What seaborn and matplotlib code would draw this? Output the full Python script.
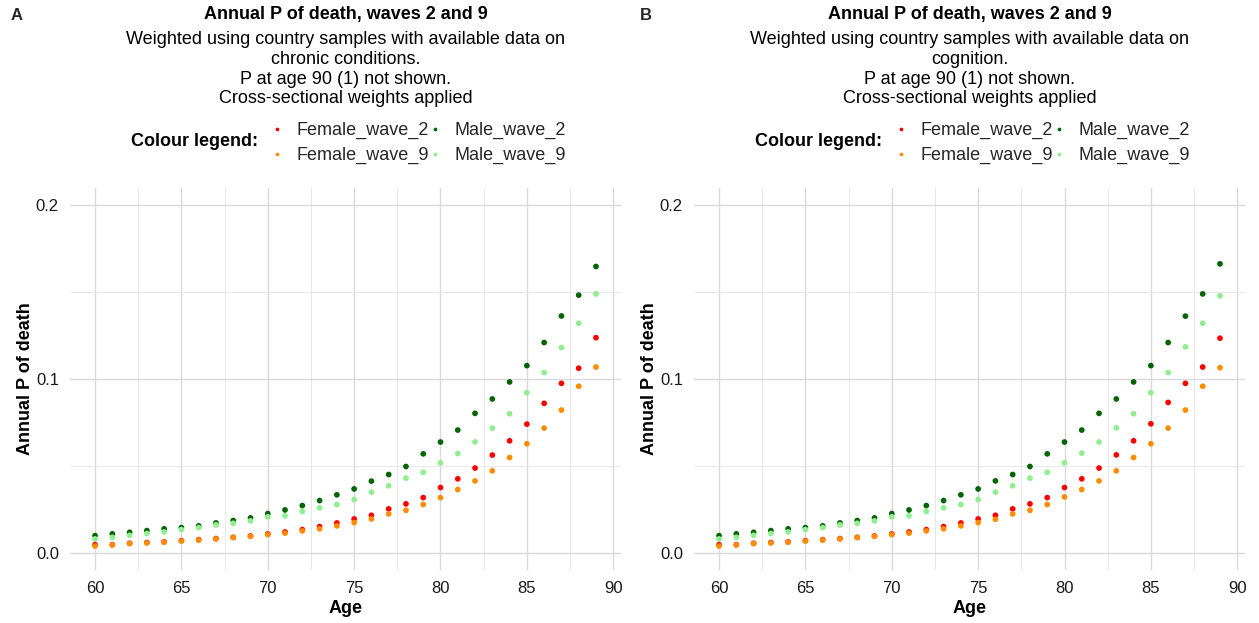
import numpy as np
import pandas as pd
import matplotlib
matplotlib.use("Agg")
import matplotlib.pyplot as plt
from matplotlib.ticker import MultipleLocator, FormatStrFormatter
import seaborn as sns

ages = list(range(60, 90))
groups = ["Female_wave_2", "Female_wave_9", "Male_wave_2", "Male_wave_9"]
palette = {"Female_wave_2": "#FF0000", "Female_wave_9": "#FF8C00",
           "Male_wave_2": "#006400", "Male_wave_9": "#90EE90"}

# Panel A: weighted on samples with chronic-condition data
a_female_wave_2 = [0.0046, 0.0046, 0.0054, 0.0058, 0.0062, 0.0069, 0.0075, 0.0081, 0.0088, 0.0096,
                   0.0108, 0.0119, 0.0133, 0.0150, 0.0171, 0.0194, 0.0215, 0.0252, 0.0281, 0.0317,
                   0.0375, 0.0425, 0.0487, 0.0562, 0.0644, 0.0740, 0.0860, 0.0975, 0.1062, 0.1238]
a_female_wave_9 = [0.0038, 0.0044, 0.0052, 0.0056, 0.0060, 0.0067, 0.0073, 0.0079, 0.0087, 0.0094,
                   0.0104, 0.0112, 0.0125, 0.0137, 0.0154, 0.0173, 0.0194, 0.0223, 0.0244, 0.0277,
                   0.0317, 0.0363, 0.0413, 0.0471, 0.0548, 0.0627, 0.0717, 0.0821, 0.0958, 0.1069]
a_male_wave_2 = [0.0098, 0.0108, 0.0117, 0.0127, 0.0137, 0.0144, 0.0154, 0.0171, 0.0185, 0.0200,
                 0.0225, 0.0246, 0.0271, 0.0300, 0.0333, 0.0367, 0.0412, 0.0450, 0.0496, 0.0569,
                 0.0637, 0.0706, 0.0802, 0.0885, 0.0983, 0.1077, 0.1210, 0.1363, 0.1483, 0.1648]
a_male_wave_9 = [0.0079, 0.0088, 0.0100, 0.0110, 0.0119, 0.0133, 0.0144, 0.0160, 0.0169, 0.0183,
                 0.0206, 0.0212, 0.0237, 0.0258, 0.0277, 0.0306, 0.0348, 0.0385, 0.0429, 0.0463,
                 0.0517, 0.0571, 0.0638, 0.0717, 0.0800, 0.0921, 0.1037, 0.1181, 0.1321, 0.1490]

# Panel B: weighted on samples with cognition data
b_female_wave_2 = [0.0046, 0.0046, 0.0054, 0.0058, 0.0062, 0.0069, 0.0075, 0.0081, 0.0088, 0.0096,
                   0.0108, 0.0119, 0.0133, 0.0150, 0.0171, 0.0194, 0.0215, 0.0252, 0.0281, 0.0317,
                   0.0375, 0.0425, 0.0487, 0.0563, 0.0644, 0.0742, 0.0865, 0.0975, 0.1069, 0.1235]
b_female_wave_9 = [0.0038, 0.0044, 0.0052, 0.0056, 0.0060, 0.0067, 0.0073, 0.0079, 0.0087, 0.0094,
                   0.0104, 0.0112, 0.0125, 0.0137, 0.0154, 0.0173, 0.0192, 0.0223, 0.0244, 0.0277,
                   0.0321, 0.0363, 0.0413, 0.0471, 0.0548, 0.0627, 0.0717, 0.0821, 0.0958, 0.1065]
b_male_wave_2 = [0.0098, 0.0108, 0.0117, 0.0127, 0.0137, 0.0144, 0.0154, 0.0171, 0.0185, 0.0200,
                 0.0225, 0.0246, 0.0271, 0.0300, 0.0333, 0.0367, 0.0413, 0.0450, 0.0496, 0.0569,
                 0.0637, 0.0706, 0.0802, 0.0885, 0.0983, 0.1077, 0.1210, 0.1362, 0.1490, 0.1663]
b_male_wave_9 = [0.0079, 0.0088, 0.0100, 0.0110, 0.0119, 0.0133, 0.0144, 0.0160, 0.0169, 0.0183,
                 0.0206, 0.0212, 0.0237, 0.0258, 0.0277, 0.0306, 0.0348, 0.0385, 0.0429, 0.0463,
                 0.0517, 0.0573, 0.0637, 0.0719, 0.0800, 0.0921, 0.1037, 0.1185, 0.1321, 0.1479]

panel_letters = ["A", "B"]
title = "Annual P of death, waves 2 and 9"
subtitles = [
    "Weighted using country samples with available data on\nchronic conditions.\nP at age 90 (1) not shown.\nCross-sectional weights applied",
    "Weighted using country samples with available data on\ncognition.\nP at age 90 (1) not shown.\nCross-sectional weights applied",
]
x_label = "Age"
y_label = "Annual P of death"
legend_title = "Colour legend:"


def long_frame(series):
    rows = []
    for g, vals in zip(groups, series):
        for a, v in zip(ages, vals):
            rows.append({"Age": a, "P": v, "Group": g})
    return pd.DataFrame(rows)


frames = [
    long_frame([a_female_wave_2, a_female_wave_9, a_male_wave_2, a_male_wave_9]),
    long_frame([b_female_wave_2, b_female_wave_9, b_male_wave_2, b_male_wave_9]),
]

sns.set_theme(style="white")
plt.rcParams["font.family"] = ["Liberation Sans", "DejaVu Sans"]

W, H = 1259, 623
fig = plt.figure(figsize=(W / 100, H / 100), dpi=100)

# axes boxes in pixels: left, right, top, bottom
boxes = [(70, 621, 188, 570), (694, 1245, 188, 570)]
text_col = "#1A1A1A"

for i, (df, box) in enumerate(zip(frames, boxes)):
    l, r, t, b = box
    ax = fig.add_axes([l / W, 1 - b / H, (r - l) / W, (b - t) / H])
    sns.scatterplot(data=df, x="Age", y="P", hue="Group", hue_order=groups,
                    palette=palette, s=17, linewidth=0, ax=ax, legend=True)
    ax.set_xlim(58.55, 90.45)
    ax.set_ylim(-0.01, 0.21)
    ax.xaxis.set_major_locator(MultipleLocator(5))
    ax.xaxis.set_minor_locator(MultipleLocator(2.5))
    ax.yaxis.set_major_locator(MultipleLocator(0.1))
    ax.yaxis.set_minor_locator(MultipleLocator(0.05))
    ax.yaxis.set_major_formatter(FormatStrFormatter("%.1f"))
    ax.grid(which="major", color="#D9D9D9", linewidth=1.0)
    ax.grid(which="minor", color="#E8E8E8", linewidth=0.7)
    ax.set_axisbelow(True)
    for s in ax.spines.values():
        s.set_visible(False)
    ax.tick_params(which="both", length=0, labelsize=12, colors=text_col, pad=8)
    ax.set_xlabel(x_label, fontsize=13, fontweight="bold", color="black", labelpad=3)
    ax.set_ylabel(y_label, fontsize=13, fontweight="bold", color="black", labelpad=1)

    handles, labels = ax.get_legend_handles_labels()
    ax.get_legend().remove()

    cx = (l + r) / 2 / W
    fig.text(cx, 1 - 15 / H, title, ha="center", va="center",
             fontsize=13, fontweight="bold", color="black")
    fig.text(cx, 1 - 31.5 / H, subtitles[i], ha="center", va="top",
             fontsize=13, color="black", linespacing=1.2, multialignment="center")
    fig.text((l - 59) / W if i == 0 else (l - 54) / W, 1 - 15 / H, panel_letters[i],
             ha="left", va="center", fontsize=12, fontweight="bold")

    fig.text((l + 61) / W, 1 - 142 / H, legend_title, ha="left", va="center",
             fontsize=13, fontweight="bold", color="black")
    leg = fig.legend(handles, labels, ncol=2, frameon=False,
                     loc="center left", bbox_to_anchor=((l + 201) / W, 1 - 143 / H),
                     fontsize=13, markerscale=0.65, handlelength=0.7,
                     handletextpad=0.7, columnspacing=0.0, labelspacing=0.43,
                     borderpad=0, borderaxespad=0)

fig.savefig("out.png", dpi=100)
